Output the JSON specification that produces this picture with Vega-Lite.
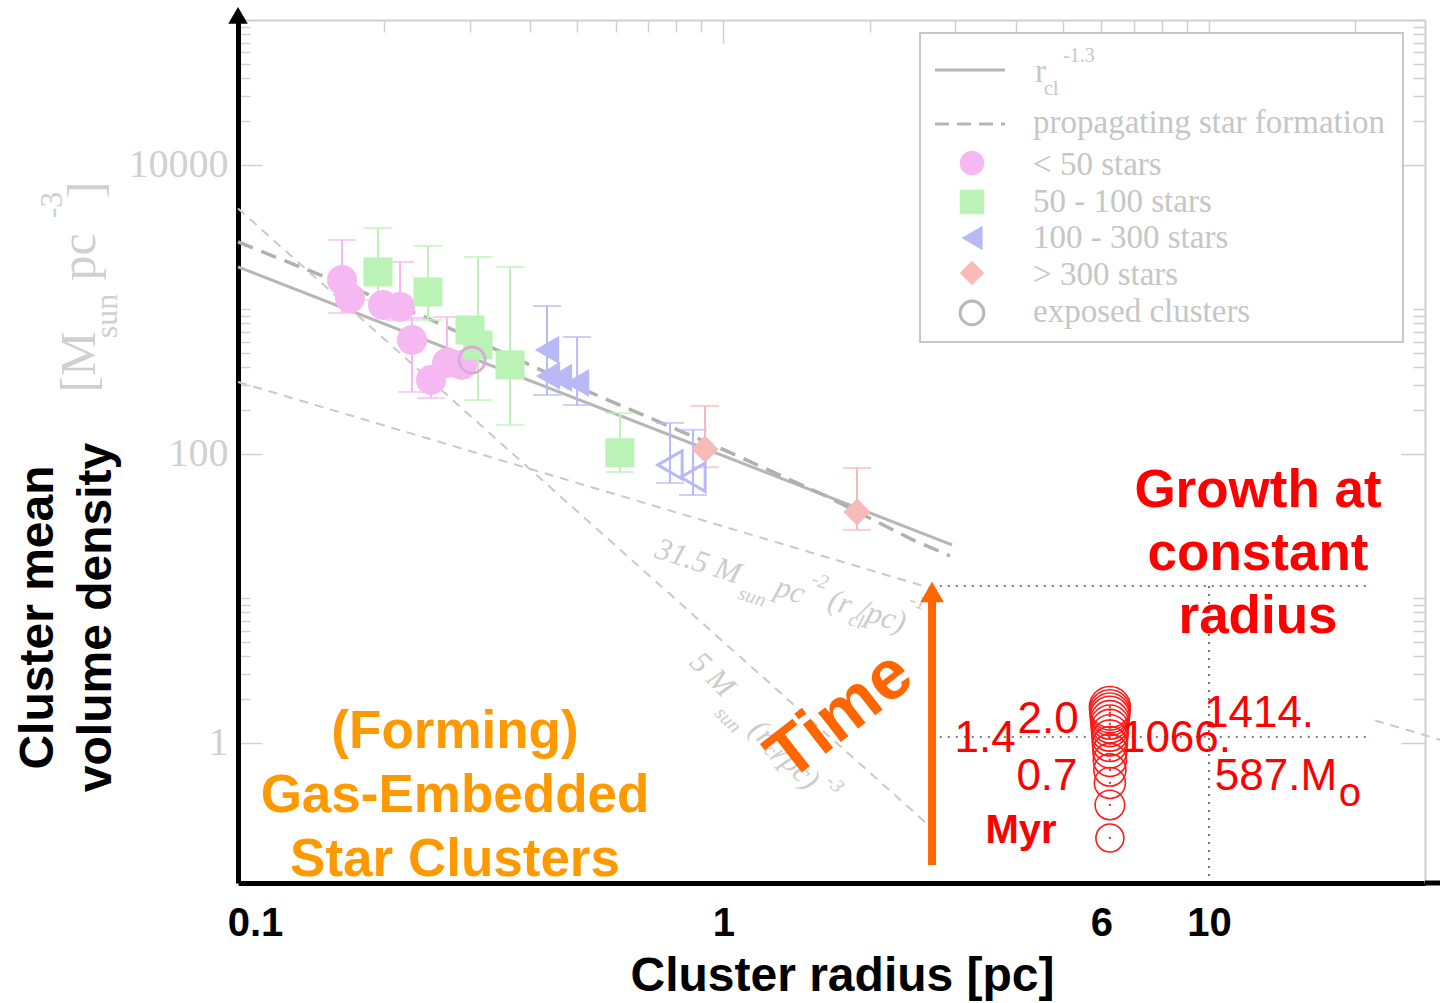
{
"$schema":"https://vega.github.io/schema/vega-lite/v6.json",
"width":1187,"height":863,
"autosize":{"type":"none"},
"padding":{"left":238,"top":20,"right":15,"bottom":120},
"background":"white",
"config":{"view":{"stroke":null}},
"datasets":{
"lines":[
{"s":"pl","r":0.1,"rho":1968},{"s":"pl","r":2.956,"rho":23.5},
{"s":"ps","r":0.1,"rho":2931},{"s":"ps","r":0.245,"rho":874},{"s":"ps","r":0.5064,"rho":286},{"s":"ps","r":0.9835,"rho":110},{"s":"ps","r":1.641,"rho":50.4},{"s":"ps","r":2.457,"rho":25.4},{"s":"ps","r":2.928,"rho":19.7},
{"s":"t31a","r":0.1,"rho":315},{"s":"t31a","r":2.75,"rho":11.45},
{"s":"t31b","r":21.98,"rho":1.433},{"s":"t31b","r":30.3,"rho":1.04},
{"s":"t5","r":0.1,"rho":5000},{"s":"t5","r":2.67,"rho":0.2627}
],
"segs":[
{"k":"dot","x1":2.79,"x2":21.66,"y1":12.2,"y2":12.2},
{"k":"dot","x1":2.79,"x2":21.66,"y1":1.1,"y2":1.1},
{"k":"dot","x1":10,"x2":10,"y1":12.2,"y2":0.11},
{"k":"axext","x1":27.86,"x2":30.3,"y1":0.1074,"y2":0.1074},
{"k":"arrow","x1":2.689,"x2":2.689,"y1":0.1432,"y2":9.9},
{"k":"legsolid","x1":2.727,"x2":3.801,"y1":45400,"y2":45400},
{"k":"legdash","x1":2.727,"x2":3.801,"y1":19220,"y2":19220}
],
"box":[{"x1":2.54,"x2":25.09,"y1":595.7,"y2":81930}],
"tri":[{"k":"yax","x":0.1,"y":108300},{"k":"time","x":2.689,"y":11.09}],
"pts":[
{"g":"a","r":0.1638,"rho":1600,"lo":946,"hi":3027,"open":false},
{"g":"a","r":0.17,"rho":1202,"open":false},
{"g":"a","r":0.1989,"rho":1074,"open":false},
{"g":"a","r":0.2157,"rho":1041,"lo":846,"hi":2132,"open":false},
{"g":"a","r":0.2283,"rho":615,"lo":269,"hi":873,"open":false},
{"g":"a","r":0.2498,"rho":325,"lo":244,"hi":380,"open":false},
{"g":"a","r":0.2694,"rho":426,"lo":363,"hi":887,"open":false},
{"g":"a","r":0.2893,"rho":413,"open":false},
{"g":"b","r":0.1942,"rho":1818,"lo":1164,"hi":3664,"open":false},
{"g":"b","r":0.2462,"rho":1322,"lo":846,"hi":2750,"open":false},
{"g":"b","r":0.3005,"rho":721,"open":false},
{"g":"b","r":0.3121,"rho":568,"lo":236,"hi":2308,"open":false},
{"g":"b","r":0.3633,"rho":413,"lo":159,"hi":1968,"open":false},
{"g":"b","r":0.6118,"rho":102,"lo":75,"hi":192,"open":false},
{"g":"c","r":0.433,"rho":525,"lo":256,"hi":1057,"open":false},
{"g":"c","r":0.4351,"rho":347,"open":false},
{"g":"c","r":0.4604,"rho":336,"open":false},
{"g":"c","r":0.4994,"rho":310,"lo":218,"hi":645,"open":false},
{"g":"c","r":0.7759,"rho":84,"lo":63,"hi":164,"open":true},
{"g":"c","r":0.8653,"rho":69,"lo":52,"hi":147,"open":true},
{"g":"d","r":0.916,"rho":108,"lo":81,"hi":215,"open":false},
{"g":"d","r":1.884,"rho":39.7,"lo":29.8,"hi":80,"open":false},
{"g":"e","r":0.3034,"rho":447,"open":true}
],
"leg":[{"g":"a","x":3.25,"y":10320},{"g":"b","x":3.25,"y":5546},{"g":"c","x":3.25,"y":3125},{"g":"d","x":3.25,"y":1789},{"g":"e","x":3.25,"y":946}],
"legtxt":[
{"k":"big","x":4.341,"y":16640,"t":"propagating star formation"},
{"k":"big","x":4.341,"y":8530,"t":"< 50 stars"},
{"k":"big","x":4.341,"y":4730,"t":"50 - 100 stars"},
{"k":"big","x":4.341,"y":2665,"t":"100 - 300 stars"},
{"k":"big","x":4.341,"y":1478,"t":"> 300 stars"},
{"k":"big","x":4.341,"y":819,"t":"exposed clusters"},
{"k":"big","x":4.382,"y":37530,"t":"r"},
{"k":"small","x":4.573,"y":30500,"t":"cl"},
{"k":"small","x":5.004,"y":51600,"t":"-1.3"}
],
"faint":[
{"k":"yu","x":0.04726,"y":433,"t":"[M"},
{"k":"yus","x":0.05372,"y":901,"t":"sun"},
{"k":"yu","x":0.04726,"y":2308,"t":"pc"},
{"k":"yus","x":0.04139,"y":5285,"t":"-3"},
{"k":"yu","x":0.04887,"y":6714,"t":"]"},
{"k":"l31","x":0.8861,"y":17.89,"t":"31.5 M"},
{"k":"l31s","x":1.145,"y":10.24,"t":"sun"},
{"k":"l31","x":1.371,"y":11.27,"t":"pc"},
{"k":"l31s","x":1.58,"y":13.22,"t":"-2"},
{"k":"l31","x":1.738,"y":9.308,"t":"(r"},
{"k":"l31s","x":1.875,"y":6.988,"t":"cl"},
{"k":"l31","x":2.121,"y":7.447,"t":"/pc)"},
{"k":"l31s","x":2.515,"y":9.458,"t":"-1"},
{"k":"l5","x":0.9469,"y":2.955,"t":"5 M"},
{"k":"l5s","x":1.021,"y":1.443,"t":"sun"},
{"k":"l5","x":1.2,"y":1.173,"t":"(r"},
{"k":"l5s","x":1.259,"y":0.866,"t":"cl"},
{"k":"l5","x":1.417,"y":0.671,"t":"/pc)"},
{"k":"l5s","x":1.697,"y":0.5202,"t":"-3"}
],
"snap":[
{"r":6.25,"rho":0.2201,"mass":199},{"r":6.25,"rho":0.3724,"mass":337},{"r":6.25,"rho":0.5287,"mass":478},{"r":6.25,"rho":0.6503,"mass":588},
{"r":6.25,"rho":0.7627,"mass":690},{"r":6.25,"rho":0.8803,"mass":797},{"r":6.25,"rho":0.984,"mass":890},{"r":6.25,"rho":1.083,"mass":980},
{"r":6.25,"rho":1.173,"mass":1061},{"r":6.25,"rho":1.27,"mass":1149},{"r":6.25,"rho":1.354,"mass":1225},{"r":6.25,"rho":1.443,"mass":1306},
{"r":6.25,"rho":1.538,"mass":1392},{"r":6.25,"rho":1.613,"mass":1459},{"r":6.25,"rho":1.692,"mass":1531},{"r":6.25,"rho":1.775,"mass":1606}
],
"ann":[
{"k":"growth","x":12.62,"y":42.97,"t":"Growth at\nconstant\nradius"},
{"k":"forming","x":0.2799,"y":0.9234,"t":"(Forming)\nGas-Embedded\nStar Clusters"},
{"k":"time","x":1.738,"y":1.538,"t":"Time"},
{"k":"num","x":3.457,"y":0.8662,"t":"1.4"},
{"k":"num","x":4.661,"y":1.173,"t":"2.0"},
{"k":"num","x":4.638,"y":0.473,"t":"0.7"},
{"k":"num","x":8.551,"y":0.8662,"t":"1066."},
{"k":"num","x":12.68,"y":1.29,"t":"1414."},
{"k":"num","x":13.74,"y":0.473,"t":"587.M"},
{"k":"sub","x":19.5,"y":0.3664,"t":"o"},
{"k":"myr","x":4.101,"y":0.2032,"t":"Myr"}
]
},
"layer":[
{"data":{"name":"lines"},"transform":[{"filter":"datum.s=='pl'"}],
 "mark":{"type":"line","color":"#b6b6b6","strokeWidth":3},
 "encoding":{
  "x":{"field":"r","type":"quantitative","scale":{"type":"log","domain":[0.1,27.86],"nice":false},
   "axis":{"orient":"bottom","values":[0.1,1,6,10],"format":"~g","labelFont":"Liberation Sans","labelFontWeight":"bold","labelFontSize":40,"labelColor":"black","labelPadding":20,"labelFlush":false,"labelOverlap":false,"labelOffset":{"condition":{"test":"datum.value==0.1","value":17},"value":0},"ticks":false,"grid":false,"domainColor":"black","domainWidth":5,
   "title":"Cluster radius [pc]","titleFont":"Liberation Sans","titleFontSize":48,"titleFontWeight":"bold","titleColor":"black","titleX":604,"titleY":107,"titleBaseline":"alphabetic","titleAlign":"center"}},
  "y":{"field":"rho","type":"quantitative","scale":{"type":"log","domain":[0.1074,100700],"nice":false},
   "axis":{"orient":"left","values":[1,2,3,4,5,6,7,8,9,10,100,200,300,400,500,600,700,800,900,1000,10000,20000,30000,40000,50000,60000,70000,80000,90000,100000],"format":"d","labelExpr":"indexof([1,100,10000],datum.value)>=0 ? datum.label : ''","labelFont":"Liberation Serif","labelFontSize":40,"labelColor":"#d0d0d0","labelPadding":34,"labelOverlap":false,"tickColor":"#d2d2d2","tickWidth":1.5,"tickSize":{"condition":{"test":"indexof([1,100,10000],datum.value)>=0","value":-24},"value":-12},"grid":false,"domainColor":"black","domainWidth":5,
   "title":["Cluster mean","volume density"],"titleFont":"Liberation Sans","titleFontSize":48,"titleFontWeight":"bold","titleColor":"black","titleLineHeight":58,"titleAngle":-90,"titleX":-186,"titleY":597,"titleBaseline":"alphabetic","titleAlign":"center"}}
 }},
{"data":{"name":"lines"},"transform":[{"filter":"datum.s=='ps'"}],
 "mark":{"type":"line","color":"#b0b0b0","strokeWidth":3.5,"strokeDash":[16,9]},
 "encoding":{
  "x":{"field":"r","type":"quantitative","scale":{"type":"log","domain":[0.1,27.86],"nice":false},
   "axis":{"orient":"top","values":[0.2,0.3,0.4,0.5,0.6,0.7,0.8,0.9,1,2,3,4,5,6,7,8,9,10,20],"labels":false,"tickColor":"#cfcfcf","tickWidth":1.5,"tickSize":{"condition":{"test":"datum.value==1","value":-23},"value":-12},"domainColor":"#cfcfcf","domainWidth":2,"grid":false,"title":null}},
  "y":{"field":"rho","type":"quantitative","scale":{"type":"log","domain":[0.1074,100700],"nice":false},
   "axis":{"orient":"right","values":[1,2,3,4,5,6,7,8,9,10,100,200,300,400,500,600,700,800,900,1000,10000,20000,30000,40000,50000,60000,70000,80000,90000,100000],"labels":false,"tickColor":"#cfcfcf","tickWidth":1.5,"tickSize":{"condition":{"test":"indexof([1,100,10000],datum.value)>=0","value":-24},"value":-12},"domainColor":"#cfcfcf","domainWidth":2,"grid":false,"title":null}}
 }},
{"data":{"name":"lines"},"transform":[{"filter":"datum.s=='t31a'||datum.s=='t31b'||datum.s=='t5'"}],
 "mark":{"type":"line","color":"#c9c9c9","strokeWidth":2,"strokeDash":[9,7]},
 "encoding":{"x":{"field":"r","type":"quantitative","axis":null},"y":{"field":"rho","type":"quantitative","axis":null},"detail":{"field":"s"}}},
{"data":{"name":"pts"},"transform":[{"filter":"isValid(datum.lo)"}],
 "mark":{"type":"errorbar","ticks":true,"size":28,"thickness":2},
 "encoding":{"x":{"field":"r","type":"quantitative","axis":null},"y":{"field":"lo","type":"quantitative","axis":null},"y2":{"field":"hi"},
  "color":{"field":"g","type":"nominal","scale":{"domain":["a","b","c","d","e"],"range":["#f6b8f2","#bbf3b6","#b9baf5","#f8b9b9","#d8acd8"]},"legend":null}}},
{"data":{"name":"pts"},"transform":[{"filter":"!datum.open"}],
 "mark":{"type":"point","filled":true,"opacity":1},
 "encoding":{"x":{"field":"r","type":"quantitative","axis":null},"y":{"field":"rho","type":"quantitative","axis":null},
  "color":{"field":"g","type":"nominal","scale":{"domain":["a","b","c","d","e"],"range":["#f6b8f2","#bbf3b6","#b9baf5","#f8b9b9","#d8acd8"]},"legend":null},
  "shape":{"field":"g","type":"nominal","scale":{"domain":["a","b","c","d","e"],"range":["circle","square","triangle-left","diamond","circle"]},"legend":null},
  "size":{"field":"g","type":"nominal","scale":{"domain":["a","b","c","d","e"],"range":[900,680,800,680,850]},"legend":null}}},
{"data":{"name":"pts"},"transform":[{"filter":"datum.open"}],
 "mark":{"type":"point","filled":false,"strokeWidth":3,"opacity":1},
 "encoding":{"x":{"field":"r","type":"quantitative","axis":null},"y":{"field":"rho","type":"quantitative","axis":null},
  "color":{"field":"g","type":"nominal","scale":{"domain":["a","b","c","d","e"],"range":["#f6b8f2","#bbf3b6","#b9baf5","#f8b9b9","#d8acd8"]},"legend":null},
  "shape":{"field":"g","type":"nominal","scale":{"domain":["a","b","c","d","e"],"range":["circle","square","triangle-left","diamond","circle"]},"legend":null},
  "size":{"field":"g","type":"nominal","scale":{"domain":["a","b","c","d","e"],"range":[900,680,800,680,850]},"legend":null}}},
{"data":{"name":"box"},
 "mark":{"type":"rect","filled":false,"color":"#c8c8c8","strokeWidth":2},
 "encoding":{"x":{"field":"x1","type":"quantitative","axis":null},"x2":{"field":"x2"},"y":{"field":"y1","type":"quantitative","axis":null},"y2":{"field":"y2"}}},
{"data":{"name":"segs"},"transform":[{"filter":"datum.k=='legsolid'"}],
 "mark":{"type":"rule","color":"#b6b6b6","strokeWidth":3},
 "encoding":{"x":{"field":"x1","type":"quantitative","axis":null},"x2":{"field":"x2"},"y":{"field":"y1","type":"quantitative","axis":null},"y2":{"field":"y2"}}},
{"data":{"name":"segs"},"transform":[{"filter":"datum.k=='legdash'"}],
 "mark":{"type":"rule","color":"#b6b6b6","strokeWidth":3,"strokeDash":[14,8]},
 "encoding":{"x":{"field":"x1","type":"quantitative","axis":null},"x2":{"field":"x2"},"y":{"field":"y1","type":"quantitative","axis":null},"y2":{"field":"y2"}}},
{"data":{"name":"leg"},"transform":[{"filter":"datum.g!='e'"}],
 "mark":{"type":"point","filled":true,"opacity":1,"size":600},
 "encoding":{"x":{"field":"x","type":"quantitative","axis":null},"y":{"field":"y","type":"quantitative","axis":null},
  "color":{"field":"g","type":"nominal","scale":{"domain":["a","b","c","d","e"],"range":["#f6b8f2","#bbf3b6","#b9baf5","#f8b9b9","#d8acd8"]},"legend":null},
  "shape":{"field":"g","type":"nominal","scale":{"domain":["a","b","c","d","e"],"range":["circle","square","triangle-left","diamond","circle"]},"legend":null}}},
{"data":{"name":"leg"},"transform":[{"filter":"datum.g=='e'"}],
 "mark":{"type":"point","filled":false,"opacity":1,"size":560,"color":"#b8b8b8","strokeWidth":3,"shape":"circle"},
 "encoding":{"x":{"field":"x","type":"quantitative","axis":null},"y":{"field":"y","type":"quantitative","axis":null}}},
{"data":{"name":"legtxt"},"transform":[{"filter":"datum.k=='big'"}],
 "mark":{"type":"text","font":"Liberation Serif","fontSize":33,"color":"#c6c6c6","align":"left","baseline":"alphabetic"},
 "encoding":{"x":{"field":"x","type":"quantitative","axis":null},"y":{"field":"y","type":"quantitative","axis":null},"text":{"field":"t"}}},
{"data":{"name":"legtxt"},"transform":[{"filter":"datum.k=='small'"}],
 "mark":{"type":"text","font":"Liberation Serif","fontSize":20,"color":"#c6c6c6","align":"left","baseline":"alphabetic"},
 "encoding":{"x":{"field":"x","type":"quantitative","axis":null},"y":{"field":"y","type":"quantitative","axis":null},"text":{"field":"t"}}},
{"data":{"name":"faint"},"transform":[{"filter":"datum.k=='yu'"}],
 "mark":{"type":"text","font":"Liberation Serif","fontSize":50,"color":"#d0d0d0","align":"center","baseline":"middle","angle":-90},
 "encoding":{"x":{"field":"x","type":"quantitative","axis":null},"y":{"field":"y","type":"quantitative","axis":null},"text":{"field":"t"}}},
{"data":{"name":"faint"},"transform":[{"filter":"datum.k=='yus'"}],
 "mark":{"type":"text","font":"Liberation Serif","fontSize":32,"color":"#d0d0d0","align":"center","baseline":"middle","angle":-90},
 "encoding":{"x":{"field":"x","type":"quantitative","axis":null},"y":{"field":"y","type":"quantitative","axis":null},"text":{"field":"t"}}},
{"data":{"name":"faint"},"transform":[{"filter":"datum.k=='l31'"}],
 "mark":{"type":"text","font":"Liberation Serif","fontStyle":"italic","fontSize":31,"color":"#cccccc","align":"center","baseline":"middle","angle":18},
 "encoding":{"x":{"field":"x","type":"quantitative","axis":null},"y":{"field":"y","type":"quantitative","axis":null},"text":{"field":"t"}}},
{"data":{"name":"faint"},"transform":[{"filter":"datum.k=='l31s'"}],
 "mark":{"type":"text","font":"Liberation Serif","fontStyle":"italic","fontSize":20,"color":"#cccccc","align":"center","baseline":"middle","angle":18},
 "encoding":{"x":{"field":"x","type":"quantitative","axis":null},"y":{"field":"y","type":"quantitative","axis":null},"text":{"field":"t"}}},
{"data":{"name":"faint"},"transform":[{"filter":"datum.k=='l5'"}],
 "mark":{"type":"text","font":"Liberation Serif","fontStyle":"italic","fontSize":31,"color":"#cccccc","align":"center","baseline":"middle","angle":45},
 "encoding":{"x":{"field":"x","type":"quantitative","axis":null},"y":{"field":"y","type":"quantitative","axis":null},"text":{"field":"t"}}},
{"data":{"name":"faint"},"transform":[{"filter":"datum.k=='l5s'"}],
 "mark":{"type":"text","font":"Liberation Serif","fontStyle":"italic","fontSize":20,"color":"#cccccc","align":"center","baseline":"middle","angle":45},
 "encoding":{"x":{"field":"x","type":"quantitative","axis":null},"y":{"field":"y","type":"quantitative","axis":null},"text":{"field":"t"}}},
{"data":{"name":"segs"},"transform":[{"filter":"datum.k=='dot'"}],
 "mark":{"type":"rule","color":"#555555","strokeWidth":1.6,"strokeDash":[2,6]},
 "encoding":{"x":{"field":"x1","type":"quantitative","axis":null},"x2":{"field":"x2"},"y":{"field":"y1","type":"quantitative","axis":null},"y2":{"field":"y2"}}},
{"data":{"name":"segs"},"transform":[{"filter":"datum.k=='axext'"}],
 "mark":{"type":"rule","color":"black","strokeWidth":5},
 "encoding":{"x":{"field":"x1","type":"quantitative","axis":null},"x2":{"field":"x2"},"y":{"field":"y1","type":"quantitative","axis":null},"y2":{"field":"y2"}}},
{"data":{"name":"tri"},"transform":[{"filter":"datum.k=='yax'"}],
 "mark":{"type":"point","shape":"triangle-up","filled":true,"color":"black","opacity":1,"size":380},
 "encoding":{"x":{"field":"x","type":"quantitative","axis":null},"y":{"field":"y","type":"quantitative","axis":null}}},
{"data":{"name":"snap"},
 "mark":{"type":"point","shape":"circle","filled":false,"color":"#ff1a1a","strokeWidth":1.6,"opacity":1},
 "encoding":{"x":{"field":"r","type":"quantitative","axis":null},"y":{"field":"rho","type":"quantitative","axis":null},
  "size":{"field":"mass","type":"quantitative","scale":{"type":"linear","domain":[199,1606],"range":[784,1681]},"legend":null}}},
{"data":{"name":"snap"},
 "mark":{"type":"point","shape":"circle","filled":true,"color":"#ff1a1a","size":5,"opacity":1},
 "encoding":{"x":{"field":"r","type":"quantitative","axis":null},"y":{"field":"rho","type":"quantitative","axis":null}}},
{"data":{"name":"ann"},"transform":[{"filter":"datum.k=='num'"}],
 "mark":{"type":"text","font":"Liberation Sans","fontSize":44,"color":"#ff0000","align":"center","baseline":"alphabetic"},
 "encoding":{"x":{"field":"x","type":"quantitative","axis":null},"y":{"field":"y","type":"quantitative","axis":null},"text":{"field":"t"}}},
{"data":{"name":"ann"},"transform":[{"filter":"datum.k=='sub'"}],
 "mark":{"type":"text","font":"Liberation Sans","fontSize":40,"color":"#ff0000","align":"center","baseline":"alphabetic"},
 "encoding":{"x":{"field":"x","type":"quantitative","axis":null},"y":{"field":"y","type":"quantitative","axis":null},"text":{"field":"t"}}},
{"data":{"name":"ann"},"transform":[{"filter":"datum.k=='myr'"}],
 "mark":{"type":"text","font":"Liberation Sans","fontWeight":"bold","fontSize":40,"color":"#ff0000","align":"center","baseline":"alphabetic"},
 "encoding":{"x":{"field":"x","type":"quantitative","axis":null},"y":{"field":"y","type":"quantitative","axis":null},"text":{"field":"t"}}},
{"data":{"name":"ann"},"transform":[{"filter":"datum.k=='growth'"}],
 "mark":{"type":"text","font":"Liberation Sans","fontWeight":"bold","fontSize":53,"color":"#ff0000","align":"center","baseline":"alphabetic","lineBreak":"\n","lineHeight":63},
 "encoding":{"x":{"field":"x","type":"quantitative","axis":null},"y":{"field":"y","type":"quantitative","axis":null},"text":{"field":"t"}}},
{"data":{"name":"ann"},"transform":[{"filter":"datum.k=='forming'"}],
 "mark":{"type":"text","font":"Liberation Sans","fontWeight":"bold","fontSize":53,"color":"#ff9900","align":"center","baseline":"alphabetic","lineBreak":"\n","lineHeight":64},
 "encoding":{"x":{"field":"x","type":"quantitative","axis":null},"y":{"field":"y","type":"quantitative","axis":null},"text":{"field":"t"}}},
{"data":{"name":"segs"},"transform":[{"filter":"datum.k=='arrow'"}],
 "mark":{"type":"rule","color":"#ff6600","strokeWidth":8},
 "encoding":{"x":{"field":"x1","type":"quantitative","axis":null},"x2":{"field":"x2"},"y":{"field":"y1","type":"quantitative","axis":null},"y2":{"field":"y2"}}},
{"data":{"name":"tri"},"transform":[{"filter":"datum.k=='time'"}],
 "mark":{"type":"point","shape":"triangle-up","filled":true,"color":"#ff6600","opacity":1,"size":560},
 "encoding":{"x":{"field":"x","type":"quantitative","axis":null},"y":{"field":"y","type":"quantitative","axis":null}}},
{"data":{"name":"ann"},"transform":[{"filter":"datum.k=='time'"}],
 "mark":{"type":"text","font":"Liberation Sans","fontWeight":"bold","fontSize":70,"color":"#ff6600","align":"center","baseline":"middle","angle":-38},
 "encoding":{"x":{"field":"x","type":"quantitative","axis":null},"y":{"field":"y","type":"quantitative","axis":null},"text":{"field":"t"}}}
],
"resolve":{"axis":{"x":"independent","y":"independent"},"scale":{"size":"independent"}}
}
